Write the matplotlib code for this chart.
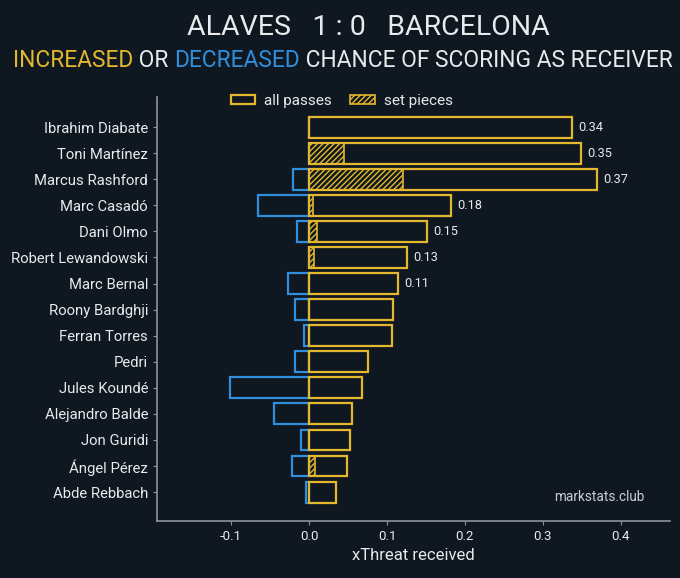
import matplotlib
from matplotlib import pyplot as plt
from matplotlib.patches import Patch

matplotlib.rc('font', family=['Roboto', 'DejaVu Sans'])
plt.rcParams['hatch.linewidth'] = 1.0

BG = '#0f1720'
GOLD = '#e3b82e'
BLUE = '#2f8fdc'
TEXT = '#e8eaec'
GREY = '#8c939b'

players = ['Ibrahim Diabate', 'Toni Martínez', 'Marcus Rashford', 'Marc Casadó',
           'Dani Olmo', 'Robert Lewandowski', 'Marc Bernal', 'Roony Bardghji',
           'Ferran Torres', 'Pedri', 'Jules Koundé', 'Alejandro Balde',
           'Jon Guridi', 'Ángel Pérez', 'Abde Rebbach']
increased = [0.338, 0.349, 0.369, 0.182, 0.151, 0.126, 0.114, 0.108,
             0.106, 0.076, 0.068, 0.055, 0.052, 0.049, 0.035]
decreased = [0.0, 0.0, -0.020, -0.065, -0.016, 0.0, -0.027, -0.018,
             -0.006, -0.018, -0.101, -0.045, -0.010, -0.022, -0.004]
set_pieces = [0.0, 0.045, 0.120, 0.005, 0.010, 0.007, 0.0, 0.0,
              0.0, 0.0, 0.0, 0.0, 0.0, 0.008, 0.0]


def draw_chart():
    fig = plt.figure(figsize=(6.8, 5.78), dpi=100, facecolor=BG)
    ax = fig.add_axes([0.231, 0.099, 0.754, 0.733], facecolor=BG)
    rows = list(range(len(players)))

    ax.barh(rows, decreased, height=0.8, color='none', edgecolor=BLUE, linewidth=1.6)
    ax.barh(rows, set_pieces, height=0.8, color='none', edgecolor=GOLD,
            linewidth=1.2, hatch='//////')
    ax.barh(rows, increased, height=0.8, color='none', edgecolor=GOLD, linewidth=1.6)

    for y, val in zip(rows, increased):
        if val > 0.11:
            ax.text(val + 0.008, y, f'{val:.2f}', color=TEXT, fontsize=9.2,
                    va='center', ha='left')

    ax.set_yticks(rows)
    ax.set_yticklabels(players)
    ax.set_ylim(15.1, -1.15)
    ax.set_xlim(-0.195, 0.463)
    ax.set_xticks([-0.1, 0.0, 0.1, 0.2, 0.3, 0.4])
    ax.set_xticklabels(['-0.1', '0.0', '0.1', '0.2', '0.3', '0.4'])
    ax.tick_params(axis='y', colors=GREY, labelcolor=TEXT, labelsize=10.7, length=3)
    ax.tick_params(axis='x', colors=GREY, labelcolor=TEXT, labelsize=9.5, length=3)
    for side in ['top', 'right']:
        ax.spines[side].set_visible(False)
    for side in ['left', 'bottom']:
        ax.spines[side].set_color(GREY)
        ax.spines[side].set_linewidth(1.2)
    ax.set_xlabel('xThreat received', color=TEXT, fontsize=12, labelpad=4)

    handles = [Patch(facecolor='none', edgecolor=GOLD, linewidth=1.6, label='all passes'),
               Patch(facecolor='none', edgecolor=GOLD, linewidth=1.2, hatch='//////',
                     label='set pieces')]
    leg = ax.legend(handles=handles, loc='upper center', bbox_to_anchor=(0.36, 1.04),
                    ncol=2, frameon=False, fontsize=11, handlelength=1.6,
                    handleheight=0.6, columnspacing=1.2, handletextpad=0.6)
    for t in leg.get_texts():
        t.set_color(TEXT)

    ax.text(0.951, 0.057, 'markstats.club', transform=ax.transAxes, ha='right',
            va='center', color='#c9ccd0', fontsize=9.8)

    fig.text(0.542, 0.952, 'ALAVES   1 : 0   BARCELONA', ha='center', va='center',
             color=TEXT, fontsize=20.5)
    return fig


def subtitle(fig):
    parts = [('INCREASED', GOLD), (' OR ', TEXT), ('DECREASED', BLUE),
             (' CHANCE OF SCORING AS RECEIVER', TEXT)]
    renderer = fig.canvas.get_renderer()
    texts = []
    for s, c in parts:
        t = fig.text(0, 0.896, s, color=c, fontsize=16.4, ha='left', va='center')
        texts.append(t)
    widths = [t.get_window_extent(renderer).width / fig.bbox.width for t in texts]
    x = 0.5 - sum(widths) / 2 + 0.004
    for t, w in zip(texts, widths):
        t.set_x(x)
        x += w


fig = draw_chart()
subtitle(fig)
fig.savefig('out.png', facecolor=BG)
